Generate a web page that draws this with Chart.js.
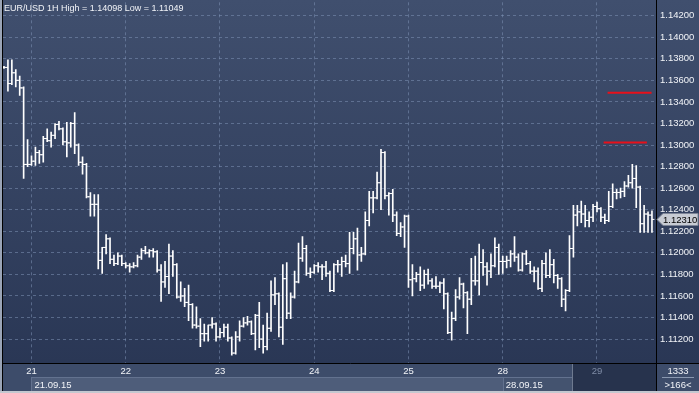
<!DOCTYPE html>
<html>
<head>
<meta charset="utf-8">
<script src="https://cdn.jsdelivr.net/npm/chart.js@4.4.1/dist/chart.umd.min.js"></script>
<style>
  html,body{margin:0;padding:0;background:#2c3956;}
  #wrap{position:relative;width:699px;height:393px;overflow:hidden;}
  #wrap canvas{display:block;}
  .lbl{position:absolute;color:#f2f4f8;font:9px "Liberation Sans",Arial,sans-serif;white-space:nowrap;line-height:11px;}
  #title{left:4px;top:3px;}
  #cnt{left:657px;width:42px;top:365px;text-align:center;font-size:9.5px;}
  #bars{left:657px;width:42px;top:379px;text-align:center;font-size:9.5px;}
</style>
</head>
<body>
<div id="wrap">
  <canvas id="c" width="699" height="393"></canvas>
  <div class="lbl" id="title">EUR/USD 1H High = 1.14098 Low = 1.11049</div>
  <div class="lbl" id="cnt">1333</div>
  <div class="lbl" id="bars">&gt;166&lt;</div>
</div>
<script>
/* ── Datos: barras horarias EUR/USD (O/H/L/C) ── */
const opens = [
  1.1372,1.1372,1.1357,1.1367,1.1360,1.1353,1.1282,1.1282,1.1285,1.1293,
  1.1291,1.1306,1.1304,1.1309,1.1319,1.1315,1.1303,1.1302,1.1320,1.1300,
  1.1284,1.1282,1.1252,1.1245,1.1245,1.1193,1.1205,1.1213,1.1194,1.1190,
  1.1197,1.1190,1.1188,1.1187,1.1188,1.1196,1.1202,1.1200,1.1202,1.1201,
  1.1184,1.1173,1.1178,1.1197,1.1189,1.1159,1.1160,1.1154,1.1152,1.1133,
  1.1132,1.1125,1.1125,1.1133,1.1134,1.1122,1.1126,1.1131,1.1121,1.1107,
  1.1122,1.1132,1.1135,1.1136,1.1125,1.1142,1.1120,1.1113,1.1130,1.1161,
  1.1162,1.1131,1.1176,1.1144,1.1159,1.1173,1.1195,1.1204,1.1181,1.1182,
  1.1188,1.1187,1.1187,1.1181,1.1165,1.1189,1.1189,1.1192,1.1190,1.1204,
  1.1213,1.1198,1.1199,1.1230,1.1251,1.1251,1.1265,1.1293,1.1253,1.1255,
  1.1235,1.1218,1.1224,1.1234,1.1175,1.1176,1.1180,1.1170,1.1180,1.1174,
  1.1169,1.1169,1.1172,1.1162,1.1126,1.1139,1.1159,1.1171,1.1163,1.1157,
  1.1174,1.1174,1.1191,1.1187,1.1183,1.1188,1.1205,1.1192,1.1192,1.1193,
  1.1199,1.1196,1.1184,1.1199,1.1190,1.1183,1.1183,1.1167,1.1190,1.1179,
  1.1189,1.1179,1.1176,1.1157,1.1165,1.1204,1.1235,1.1238,1.1236,1.1230,
  1.1233,1.1243,1.1241,1.1233,1.1230,1.1243,1.1256,1.1256,1.1257,1.1262,
  1.1265,1.1269,1.1261,1.1227,1.1236,1.1235
];
const highs = [
  1.1373,1.1379,1.1379,1.1370,1.1364,1.1354,1.1305,1.1290,1.1298,1.1295,
  1.1308,1.1315,1.1312,1.1320,1.1322,1.1316,1.1321,1.1321,1.1330,1.1301,
  1.1289,1.1283,1.1256,1.1254,1.1254,1.1205,1.1217,1.1214,1.1198,1.1200,
  1.1198,1.1191,1.1190,1.1191,1.1198,1.1204,1.1206,1.1203,1.1204,1.1202,
  1.1189,1.1192,1.1208,1.1202,1.1190,1.1173,1.1167,1.1170,1.1153,1.1150,
  1.1139,1.1134,1.1133,1.1140,1.1135,1.1130,1.1134,1.1134,1.1122,1.1127,
  1.1137,1.1140,1.1141,1.1137,1.1143,1.1154,1.1133,1.1144,1.1174,1.1177,
  1.1163,1.1189,1.1191,1.1163,1.1183,1.1209,1.1215,1.1207,1.1186,1.1189,
  1.1191,1.1189,1.1192,1.1183,1.1190,1.1193,1.1196,1.1198,1.1219,1.1219,
  1.1223,1.1205,1.1238,1.1257,1.1257,1.1275,1.1296,1.1294,1.1256,1.1259,
  1.1238,1.1228,1.1235,1.1235,1.1189,1.1182,1.1187,1.1184,1.1185,1.1176,
  1.1178,1.1173,1.1176,1.1163,1.1145,1.1166,1.1177,1.1172,1.1164,1.1195,
  1.1197,1.1208,1.1203,1.1191,1.1199,1.1214,1.1208,1.1197,1.1197,1.1202,
  1.1215,1.1199,1.1200,1.1202,1.1192,1.1187,1.1186,1.1193,1.1200,1.1203,
  1.1194,1.1180,1.1177,1.1166,1.1216,1.1244,1.1244,1.1248,1.1244,1.1238,
  1.1245,1.1247,1.1242,1.1236,1.1257,1.1264,1.1259,1.1260,1.1266,1.1272,
  1.1282,1.1281,1.1262,1.1244,1.1238,1.1239
];
const lows = [
  1.1371,1.1350,1.1356,1.1354,1.1346,1.1269,1.1280,1.1281,1.1281,1.1283,
  1.1284,1.1303,1.1298,1.1306,1.1314,1.1300,1.1289,1.1298,1.1292,1.1281,
  1.1273,1.1251,1.1234,1.1234,1.1185,1.1181,1.1199,1.1190,1.1188,1.1189,
  1.1188,1.1186,1.1182,1.1186,1.1187,1.1194,1.1199,1.1196,1.1196,1.1182,
  1.1155,1.1168,1.1162,1.1178,1.1158,1.1155,1.1150,1.1137,1.1130,1.1130,
  1.1113,1.1118,1.1118,1.1130,1.1118,1.1121,1.1122,1.1118,1.1105,1.1106,
  1.1118,1.1131,1.1133,1.1124,1.1110,1.1112,1.1107,1.1110,1.1127,1.1152,
  1.1122,1.1115,1.1139,1.1139,1.1158,1.1172,1.1192,1.1179,1.1177,1.1181,
  1.1182,1.1175,1.1178,1.1164,1.1164,1.1182,1.1178,1.1187,1.1181,1.1199,
  1.1184,1.1192,1.1198,1.1225,1.1237,1.1250,1.1240,1.1250,1.1235,1.1229,
  1.1216,1.1215,1.1205,1.1168,1.1160,1.1173,1.1165,1.1167,1.1171,1.1167,
  1.1167,1.1163,1.1148,1.1125,1.1119,1.1137,1.1157,1.1149,1.1125,1.1152,
  1.1170,1.1161,1.1179,1.1170,1.1177,1.1187,1.1180,1.1181,1.1186,1.1187,
  1.1192,1.1183,1.1183,1.1189,1.1181,1.1173,1.1166,1.1164,1.1177,1.1177,
  1.1172,1.1167,1.1150,1.1146,1.1164,1.1196,1.1225,1.1228,1.1224,1.1224,
  1.1229,1.1238,1.1229,1.1227,1.1229,1.1242,1.1250,1.1251,1.1252,1.1261,
  1.1260,1.1242,1.1219,1.1219,1.1219,1.1219
];
const closes = [
  1.1372,1.1357,1.1367,1.1360,1.1353,1.1282,1.1282,1.1285,1.1293,1.1291,
  1.1306,1.1304,1.1309,1.1319,1.1315,1.1303,1.1302,1.1320,1.1300,1.1284,
  1.1282,1.1252,1.1245,1.1245,1.1193,1.1205,1.1213,1.1194,1.1190,1.1197,
  1.1190,1.1188,1.1187,1.1188,1.1196,1.1202,1.1200,1.1202,1.1201,1.1184,
  1.1173,1.1178,1.1197,1.1189,1.1159,1.1160,1.1154,1.1152,1.1133,1.1132,
  1.1125,1.1125,1.1133,1.1134,1.1122,1.1126,1.1131,1.1121,1.1107,1.1122,
  1.1132,1.1135,1.1136,1.1125,1.1142,1.1120,1.1113,1.1130,1.1161,1.1162,
  1.1131,1.1176,1.1144,1.1159,1.1173,1.1195,1.1204,1.1181,1.1182,1.1188,
  1.1187,1.1187,1.1181,1.1165,1.1189,1.1189,1.1192,1.1190,1.1204,1.1213,
  1.1198,1.1199,1.1230,1.1251,1.1251,1.1265,1.1293,1.1253,1.1255,1.1235,
  1.1218,1.1224,1.1234,1.1175,1.1176,1.1180,1.1170,1.1180,1.1174,1.1169,
  1.1169,1.1172,1.1162,1.1126,1.1139,1.1159,1.1171,1.1163,1.1157,1.1174,
  1.1174,1.1191,1.1187,1.1183,1.1188,1.1205,1.1192,1.1192,1.1193,1.1199,
  1.1196,1.1184,1.1199,1.1190,1.1183,1.1183,1.1167,1.1190,1.1179,1.1189,
  1.1179,1.1176,1.1157,1.1165,1.1204,1.1235,1.1238,1.1236,1.1230,1.1233,
  1.1243,1.1241,1.1233,1.1230,1.1243,1.1256,1.1256,1.1257,1.1262,1.1265,
  1.1269,1.1261,1.1227,1.1236,1.1235,1.1231
];

// separadores de día (índice de la primera barra de cada día) y sus rótulos
const dayStartBar = [7, 31, 55, 79, 103, 127, 151];
const dayLabels   = ['21', '22', '23', '24', '25', '28', '29'];
const weekStartBar = [7, 127];
const weekLabels   = ['21.09.15', '28.09.15'];
const yTicks = [1.112, 1.114, 1.116, 1.118, 1.120, 1.122, 1.124, 1.126, 1.128,
                1.130, 1.132, 1.134, 1.136, 1.138, 1.140, 1.142];

// niveles rojos (órdenes pendientes)
const levelPrice = [1.13486, 1.13023];
const levelFrom  = [153.7, 152.7];
const levelTo    = [164.9, 163.7];

const shadeFromBar = 144.9;   // zona oscura del eje inferior

/* ── Plugins de dibujo ── */
const frame = {
  id: 'frame',
  beforeDraw(chart){
    const {ctx, width, height, chartArea:a} = chart;
    const xs = chart.scales.x;
    ctx.save();
    const g = ctx.createLinearGradient(0, 0, 0, height);
    g.addColorStop(0, '#404f6e'); g.addColorStop(1, '#283553');
    ctx.fillStyle = g; ctx.fillRect(0, 0, width, height);

    const w0 = Math.round(xs.getPixelForValue(weekStartBar[0]));
    const w1 = Math.round(xs.getPixelForValue(weekStartBar[1]));
    const sh = Math.round(xs.getPixelForValue(shadeFromBar));
    const y1 = a.bottom, y2 = a.bottom + 14, y3 = height - 2;
    ctx.fillStyle = '#3d4c6a'; ctx.fillRect(a.left, y1, a.right - a.left, y3 - y1);
    ctx.fillStyle = '#4e5d7a'; ctx.fillRect(w0, y2, w1 - w0, y3 - y2);
    ctx.fillStyle = '#44536f'; ctx.fillRect(w1, y2, sh - w1, y3 - y2);
    ctx.fillStyle = '#27334d'; ctx.fillRect(sh, y1, a.right - sh, y3 - y1);
    ctx.fillStyle = '#3d4c6a'; ctx.fillRect(a.right, y1, width - a.right, y3 - y1);
    ctx.strokeStyle = '#63728f'; ctx.lineWidth = 1;
    ctx.beginPath();
    ctx.moveTo(w0, y2 + 0.5); ctx.lineTo(sh, y2 + 0.5);
    ctx.moveTo(w0 + 0.5, y2); ctx.lineTo(w0 + 0.5, y3);
    ctx.moveTo(w1 + 0.5, y2); ctx.lineTo(w1 + 0.5, y3);
    ctx.stroke();
    ctx.strokeStyle = '#6e7a90';
    ctx.beginPath(); ctx.moveTo(sh - 0.5, y1); ctx.lineTo(sh - 0.5, y3); ctx.stroke();
    ctx.restore();
  },
  afterDraw(chart){
    const {ctx, width, height, chartArea:a} = chart;
    const ys = chart.scales.y;
    ctx.save();
    // líneas negras del marco
    ctx.strokeStyle = '#000'; ctx.lineWidth = 1;
    ctx.beginPath();
    ctx.moveTo(a.right + 0.5, 0); ctx.lineTo(a.right + 0.5, height);
    ctx.moveTo(2, a.bottom + 0.5); ctx.lineTo(width, a.bottom + 0.5);
    ctx.moveTo(2.5, 0); ctx.lineTo(2.5, height);
    ctx.stroke();
    // borde claro
    ctx.fillStyle = '#9aa4b6'; ctx.fillRect(0, 0, 2, height);
    ctx.fillStyle = '#c4c8d0'; ctx.fillRect(0, height - 2, width, 2);
    // separador celda inferior derecha
    ctx.strokeStyle = '#8a98b0';
    ctx.beginPath(); ctx.moveTo(a.right + 6, a.bottom + 14.5); ctx.lineTo(width - 5, a.bottom + 14.5); ctx.stroke();
    // etiqueta del último precio
    const last = closes[closes.length - 1];
    const py = Math.round(ys.getPixelForValue(last));
    const x0 = a.right + 1, x1 = width - 1;
    ctx.fillStyle = '#c8ccd4'; ctx.strokeStyle = '#7d8597';
    ctx.beginPath();
    ctx.moveTo(x0, py + 0.5); ctx.lineTo(x0 + 6, py - 5.5); ctx.lineTo(x1, py - 5.5);
    ctx.lineTo(x1, py + 6.5); ctx.lineTo(x0 + 6, py + 6.5); ctx.closePath();
    ctx.fill(); ctx.stroke();
    ctx.fillStyle = '#000'; ctx.font = '9.5px "Liberation Sans", Arial, sans-serif';
    ctx.textBaseline = 'middle'; ctx.textAlign = 'left';
    ctx.fillText(last.toFixed(5), x0 + 6, py + 1);
    ctx.restore();
  }
};

/* ── Datasets ── */
const wicks = highs.map(function(h, i){ return {x: i, y: [lows[i], h]}; });
const openTicks = opens.map(function(o, i){ return {x: i - 0.3, y: o}; });
const closeTicks = closes.map(function(c, i){ return {x: i + 0.3, y: c}; });

const datasets = [
  { type:'bar', data: wicks, backgroundColor:'#ffffff', borderWidth:0, barThickness:1, grouped:false, order:2 },
  { type:'line', data: openTicks, showLine:false, pointStyle:'line', pointRadius:1.3, borderColor:'#ffffff', borderWidth:1, pointHoverRadius:0, order:1 },
  { type:'line', data: closeTicks, showLine:false, pointStyle:'line', pointRadius:1.3, borderColor:'#ffffff', borderWidth:1, pointHoverRadius:0, order:1 }
];
levelPrice.forEach(function(p, k){
  datasets.push({ type:'line', data:[{x:levelFrom[k], y:p}, {x:levelTo[k], y:p}],
    borderColor:'#e8101a', borderWidth:2, pointRadius:0, order:0 });
});

const FONT = '"Liberation Sans", Arial, sans-serif';
const GRID = 'rgba(125,145,180,0.55)';
const X_MIN = -0.255, X_MAX = 166.03;

new Chart(document.getElementById('c'), {
  type: 'bar',
  data: { datasets: datasets },
  options: {
    responsive:false, animation:false, events:[],
    layout:{ padding:{ left:3, top:1, right:0, bottom:0 } },
    plugins:{ legend:{display:false}, tooltip:{enabled:false} },
    scales:{
      x:{
        type:'linear', position:'bottom', min:X_MIN, max:X_MAX, weight:0, offset:false,
        afterBuildTicks: function(s){ s.ticks = dayStartBar.map(function(v){ return {value:v}; }); },
        afterFit: function(s){ s.height = 14; s.paddingLeft = 0; s.paddingRight = 0; },
        grid:{ color:GRID, drawTicks:false, lineWidth:1, offset:false },
        border:{ display:false, dash:[3,3] },
        ticks:{
          autoSkip:false, maxRotation:0, padding:3,
          font:{ family:FONT, size:9.5 },
          color: function(c){ return c.index === dayLabels.length - 1 ? '#7f8ca6' : '#f2f4f8'; },
          callback: function(v, i){ return dayLabels[i]; }
        }
      },
      x2:{
        type:'linear', position:'bottom', min:X_MIN, max:X_MAX, weight:1, offset:false,
        afterBuildTicks: function(s){ s.ticks = weekStartBar.map(function(v){ return {value:v}; }); },
        afterFit: function(s){ s.height = 16; s.paddingLeft = 0; s.paddingRight = 0; },
        grid:{ display:false, drawTicks:false, offset:false },
        border:{ display:false },
        ticks:{
          autoSkip:false, maxRotation:0, padding:3, align:'start', labelOffset:3,
          font:{ family:FONT, size:9.5 }, color:'#f2f4f8',
          callback: function(v, i){ return weekLabels[i]; }
        }
      },
      y:{
        type:'linear', position:'right', min:1.10978, max:1.14324,
        afterBuildTicks: function(s){ s.ticks = yTicks.map(function(v){ return {value:v}; }); },
        afterFit: function(s){ s.width = 43; s.paddingTop = 0; s.paddingBottom = 0; },
        grid:{ color:GRID, drawTicks:false, lineWidth:1 },
        border:{ display:false, dash:[3,3] },
        ticks:{
          padding:4, font:{ family:FONT, size:9.5 }, color:'#f2f4f8',
          callback: function(v){ return Number(v).toFixed(5); }
        }
      }
    }
  },
  plugins:[frame]
});
</script>
</body>
</html>
